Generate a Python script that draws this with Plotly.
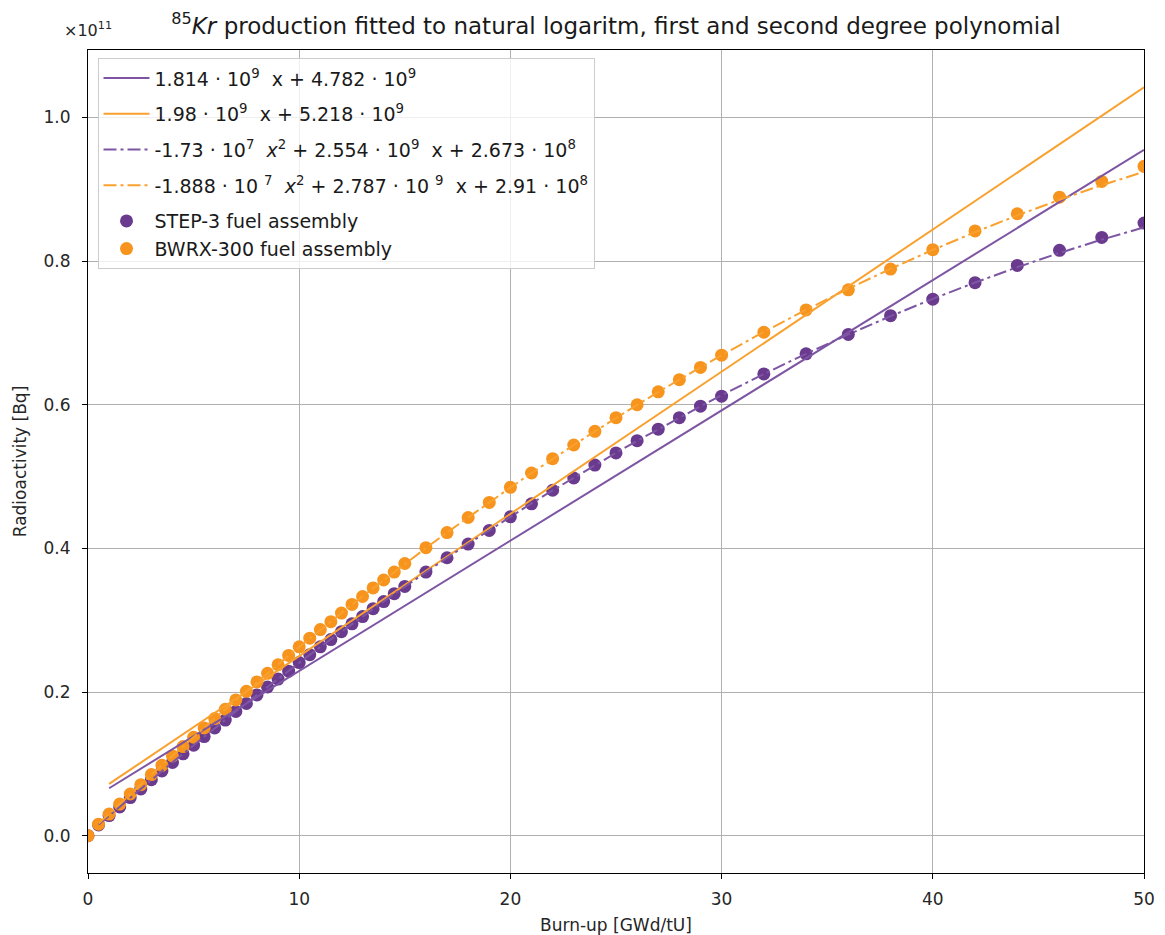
import plotly.graph_objects as go

SCALE = 1e11  # axis shown in units of 1e11 Bq

# Burn-up values [GWd/tU]
burnup = [0, 0.5, 1, 1.5, 2, 2.5, 3, 3.5, 4, 4.5, 5, 5.5, 6, 6.5, 7, 7.5, 8, 8.5, 9, 9.5,
          10, 10.5, 11, 11.5, 12, 12.5, 13, 13.5, 14, 14.5, 15,
          16, 17, 18, 19, 20, 21, 22, 23, 24, 25, 26, 27, 28, 29, 30,
          32, 34, 36, 38, 40, 42, 44, 46, 48, 50]

# Radioactivity (x1e11 Bq)
step3_act = [0.000, 0.015, 0.028, 0.040, 0.053, 0.065, 0.078, 0.090, 0.102, 0.114,
             0.126, 0.138, 0.150, 0.161, 0.173, 0.184, 0.196, 0.207, 0.218, 0.229,
             0.241, 0.252, 0.263, 0.273, 0.284, 0.295, 0.305, 0.316, 0.326, 0.337, 0.347,
             0.367, 0.387, 0.406, 0.425, 0.444, 0.462, 0.481, 0.498, 0.516, 0.533,
             0.550, 0.566, 0.582, 0.598, 0.612,
             0.643, 0.671, 0.698, 0.724, 0.747, 0.770, 0.794, 0.815, 0.833, 0.853]
bwrx_act = [0.000, 0.016, 0.030, 0.044, 0.058, 0.071, 0.085, 0.098, 0.111, 0.124,
            0.137, 0.150, 0.163, 0.176, 0.189, 0.201, 0.214, 0.226, 0.238, 0.251,
            0.263, 0.275, 0.287, 0.298, 0.310, 0.322, 0.333, 0.345, 0.356, 0.367, 0.379,
            0.401, 0.422, 0.443, 0.464, 0.485, 0.505, 0.525, 0.544, 0.563, 0.582,
            0.600, 0.618, 0.635, 0.652, 0.669,
            0.701, 0.732, 0.760, 0.789, 0.816, 0.842, 0.866, 0.889, 0.911, 0.932]

# Linear fit lines (end points)
lin_x = [1, 50]
step3_lin = [0.066, 0.955]
bwrx_lin = [0.072, 1.042]

# Second degree fit curves at the burn-up steps
quad_x = burnup[1:]
step3_quad = [0.0154, 0.0280, 0.0406, 0.0531, 0.0654, 0.0777, 0.0899, 0.1021, 0.1141,
              0.1260, 0.1379, 0.1497, 0.1614, 0.1730, 0.1845, 0.1959, 0.2073, 0.2185, 0.2297,
              0.2408, 0.2518, 0.2627, 0.2735, 0.2842, 0.2949, 0.3055, 0.3159, 0.3263, 0.3366, 0.3468,
              0.3670, 0.3869, 0.4063, 0.4255, 0.4443, 0.4627, 0.4808, 0.4986, 0.5160, 0.5330,
              0.5498, 0.5661, 0.5822, 0.5978, 0.6132,
              0.6428, 0.6710, 0.6979, 0.7234, 0.7475, 0.7702, 0.7915, 0.8114, 0.8299, 0.8470]
bwrx_quad = [0.0168, 0.0306, 0.0443, 0.0579, 0.0714, 0.0848, 0.0981, 0.1114, 0.1245,
             0.1375, 0.1505, 0.1633, 0.1761, 0.1887, 0.2013, 0.2138, 0.2262, 0.2384, 0.2506,
             0.2627, 0.2747, 0.2866, 0.2984, 0.3102, 0.3218, 0.3333, 0.3447, 0.3561, 0.3673, 0.3785,
             0.4005, 0.4221, 0.4434, 0.4643, 0.4848, 0.5049, 0.5247, 0.5440, 0.5630, 0.5817,
             0.5999, 0.6178, 0.6353, 0.6524, 0.6691,
             0.7014, 0.7322, 0.7616, 0.7893, 0.8156, 0.8404, 0.8637, 0.8854, 0.9057, 0.9244]

names = [
    "1.814 · 10<sup>9</sup>  x + 4.782 · 10<sup>9</sup>",
    "1.98 · 10<sup>9</sup>  x + 5.218 · 10<sup>9</sup>",
    "-1.73 · 10<sup>7</sup>  <i>x</i><sup>2</sup> + 2.554 · 10<sup>9</sup>  x + 2.673 · 10<sup>8</sup>",
    "-1.888 · 10 <sup>7</sup>  <i>x</i><sup>2</sup> + 2.787 · 10 <sup>9</sup>  x + 2.91 · 10<sup>8</sup>",
    "STEP-3 fuel assembly",
    "BWRX-300 fuel assembly",
]

PURPLE_M = "#6a3a8e"
ORANGE_M = "#f7941d"
PURPLE_L = "#7d55a3"
ORANGE_L = "#f9a12e"
FONT = "DejaVu Sans"

fig = go.Figure()
# markers drawn first (below lines, like matplotlib scatter)
fig.add_trace(go.Scatter(x=burnup, y=step3_act, mode="markers", name=names[4],
                         marker=dict(color=PURPLE_M, size=13), legendrank=5, legendgroup="g5"))
fig.add_trace(go.Scatter(x=burnup, y=bwrx_act, mode="markers", name=names[5],
                         marker=dict(color=ORANGE_M, size=13), legendrank=6, legendgroup="g5"))
fig.add_trace(go.Scatter(x=lin_x, y=step3_lin, mode="lines", name=names[0],
                         line=dict(color=PURPLE_L, width=2), legendrank=1, legendgroup="g1"))
fig.add_trace(go.Scatter(x=lin_x, y=bwrx_lin, mode="lines", name=names[1],
                         line=dict(color=ORANGE_L, width=2), legendrank=2, legendgroup="g2"))
dashdot = "13px,4px,3px,4px"
fig.add_trace(go.Scatter(x=quad_x, y=step3_quad, mode="lines", name=names[2],
                         line=dict(color=PURPLE_L, width=2, dash=dashdot), legendrank=3, legendgroup="g3"))
fig.add_trace(go.Scatter(x=quad_x, y=bwrx_quad, mode="lines", name=names[3],
                         line=dict(color=ORANGE_L, width=2, dash=dashdot), legendrank=4, legendgroup="g4"))

axis_common = dict(
    showgrid=True, gridcolor="#b0b0b0", gridwidth=1,
    showline=True, linecolor="black", linewidth=1, mirror=True,
    ticks="outside", ticklen=5, tickcolor="black", tickwidth=1,
    tickfont=dict(family=FONT, size=17, color="#262626"),
    zeroline=False, automargin=False,
)

fig.update_layout(
    width=1165, height=935,
    margin=dict(l=88, r=21, t=50, b=62),
    paper_bgcolor="white", plot_bgcolor="white",
    font=dict(family=FONT, size=17, color="#262626"),
    title=dict(
        text="<sup>85</sup><i>Kr</i> production fitted to natural logaritm, first and second degree polynomial",
        x=0.5, xref="paper", xanchor="center", y=1 - 26 / 935, yanchor="middle",
        font=dict(family=FONT, size=23, color="#1a1a1a"), automargin=False,
    ),
    xaxis=dict(range=[0, 50], dtick=10, tick0=0, ticklabelstandoff=6,
               title=dict(text="Burn-up [GWd/tU]", standoff=10,
                          font=dict(family=FONT, size=17)),
               **axis_common),
    yaxis=dict(range=[-0.052, 1.094], dtick=0.2, tick0=0, tickformat=".1f",
               ticklabelstandoff=8,
               title=dict(text="Radioactivity [Bq]", standoff=12,
                          font=dict(family=FONT, size=17)),
               **axis_common),
    legend=dict(x=0.009, y=0.99, xanchor="left", yanchor="top",
                bgcolor="rgba(255,255,255,0.8)", bordercolor="#cccccc", borderwidth=1,
                font=dict(family=FONT, size=19, color="#1a1a1a"),
                itemwidth=46, tracegroupgap=8, traceorder="grouped"),
    showlegend=True,
)

fig.add_annotation(text="×10<sup>11</sup>", xref="paper", yref="paper",
                   x=-0.025, y=1 + 20 / 823, xanchor="left", yanchor="middle",
                   showarrow=False, font=dict(family=FONT, size=16, color="#262626"))

fig.write_html("out.html")
